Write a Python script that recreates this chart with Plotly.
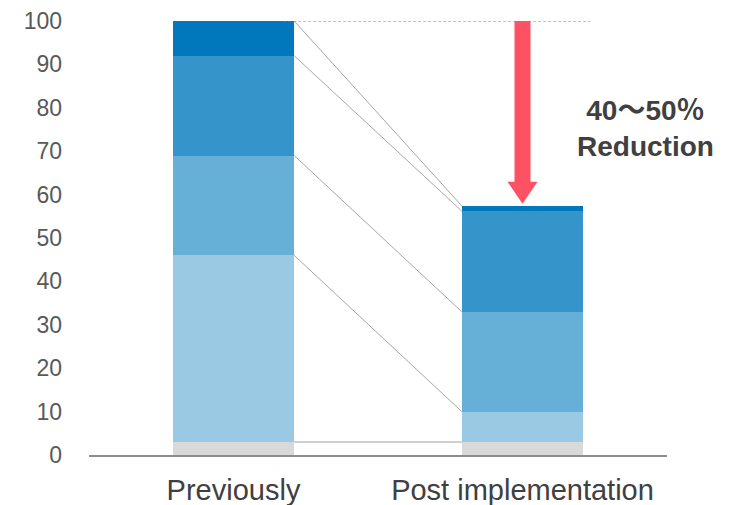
import numpy as np
import plotly.graph_objects as go

# Stacked composition before and after implementation (bottom to top)
categories = ["Previously", "Post implementation"]
layer_colors = ["#D9D9D9", "#9ACAE3", "#66AFD7", "#3594C9", "#0078BB"]
previously = [3, 43, 23, 23, 8]
post_implementation = [3, 7, 23, 23.2, 1.2]
y_ticks = [0, 10, 20, 30, 40, 50, 60, 70, 80, 90, 100]
reduction_text = "40～50％<br>Reduction"

FONT = "Liberation Sans, Arial, Noto Sans CJK JP, sans-serif"
BAR_W = 0.42
x_pos = np.arange(len(categories))

# plot-area geometry, used to size the arrow in data units
L, R, T, B = 89, 65, 21, 50
W, H = 732, 505
px_x = (W - L - R) / 2.0      # pixels per x unit (range -0.5..1.5)
px_y = (H - T - B) / 100.0    # pixels per y unit (range 0..100)

fig = go.Figure()

# stacked bars, one trace per layer
for i, col in enumerate(layer_colors):
    fig.add_trace(go.Bar(
        x=x_pos, y=[previously[i], post_implementation[i]],
        width=BAR_W, marker=dict(color=col, line=dict(width=0)),
        showlegend=False, hoverinfo="skip",
    ))

# connector lines between the layer boundaries of the two bars
prev_tops = np.cumsum(previously)
post_tops = np.cumsum(post_implementation)
x0, x1 = x_pos[0] + BAR_W / 2, x_pos[1] - BAR_W / 2
for k, (a, b) in enumerate(zip(prev_tops, post_tops)):
    base = k == 0
    fig.add_trace(go.Scatter(
        x=[x0, x1], y=[a, b], mode="lines",
        line=dict(color="#D0D0D0" if base else "#A6A6A6", width=2 if base else 1),
        showlegend=False, hoverinfo="skip", cliponaxis=False,
    ))

# dotted reference line at the previous total
prev_total = prev_tops[-1]
post_total = post_tops[-1]
fig.add_shape(type="line", xref="x", yref="y",
              x0=x_pos[0] + BAR_W / 2 - 11 / px_x, x1=x_pos[1] + 68 / px_x,
              y0=prev_total, y1=prev_total,
              line=dict(color="#808080", width=1, dash="3px,2px"))

# red arrow from previous total down to the new total
cx = x_pos[1]
shaft = 8 / px_x
head = 15 / px_x
tip = post_total + 0.5
head_base = tip + 22 / px_y
path = (f"M {cx - shaft},{prev_total} L {cx + shaft},{prev_total} "
        f"L {cx + shaft},{head_base} L {cx + head},{head_base} "
        f"L {cx},{tip} L {cx - head},{head_base} L {cx - shaft},{head_base} Z")
fig.add_shape(type="path", path=path, xref="x", yref="y",
              fillcolor="#FF5164", line=dict(width=0))

fig.add_annotation(
    x=cx + 123 / px_x, y=(prev_total + post_total) / 2 - 3.5,
    xref="x", yref="y", text=f"<b>{reduction_text}</b>", showarrow=False,
    font=dict(family=FONT, size=28, color="#404040"), align="center",
)

fig.update_layout(
    width=W, height=H, margin=dict(l=L, r=R, t=T, b=B, autoexpand=False),
    paper_bgcolor="white", plot_bgcolor="white",
    barmode="stack", bargap=0,
    font=dict(family=FONT),
    xaxis=dict(range=[-0.5, 1.5], tickvals=x_pos, ticktext=categories,
               showgrid=False, zeroline=False, showline=True,
               linecolor="#8C8C8C", linewidth=2, ticks="",
               ticklabelstandoff=8, automargin=False,
               tickfont=dict(family=FONT, size=29, color="#404040")),
    yaxis=dict(range=[0, 100], tickvals=y_ticks, showgrid=False,
               zeroline=False, showline=False, ticks="",
               ticklabelstandoff=26, automargin=False,
               tickfont=dict(family=FONT, size=23, color="#595959")),
)

fig.write_html("out.html")
